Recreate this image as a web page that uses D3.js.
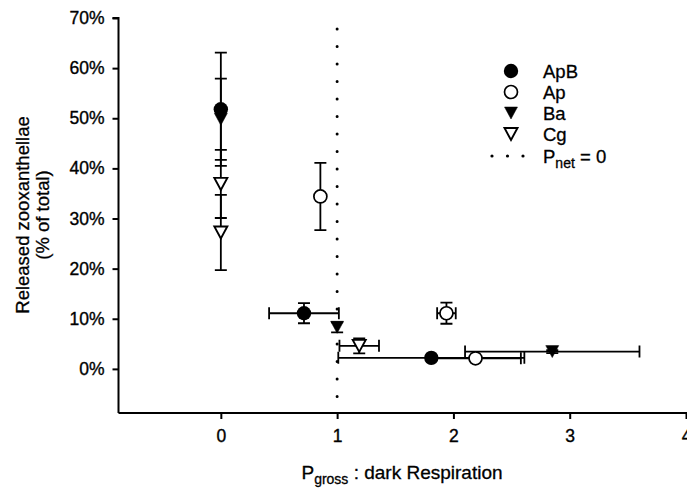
<!DOCTYPE html>
<html><head><meta charset="utf-8">
<script src="https://cdn.jsdelivr.net/npm/d3@7"></script>
<style>body{margin:0;background:#fff}svg text{font-family:"Liberation Sans",Arial,sans-serif;fill:#000}</style>
</head><body><svg id="c" width="687" height="494"></svg>
<script>
// ---- data ----
const seriesNames = ["ApB", "Ap", "Ba", "Cg"];
const apbX = [0, 0.715, 1.81];
const apbY = [51.8, 11.1, 2.2];
const apbXErr = [0, 0.3, 0.8];
const apbYErr = [11.3, 2.0, 0.3];
const apX = [0.856, 1.94, 2.19];
const apY = [34.4, 11.1, 2.1];
const apXErr = [0, 0.08, 0.39];
const apYErr = [6.7, 2.1, 0.3];
const baX = [0, 1.0, 2.85];
const baY = [49.8, 8.3, 3.45];
const baXErr = [0, 0, 0.75];
const baYErr = [8.1, 1.0, 0.3];
const cgX = [0, 0, 1.19];
const cgY = [36.9, 27.2, 4.6];
const cgXErr = [0, 0, 0.17];
const cgYErr = [6.8, 7.5, 1.5];
const xTicks = [0, 1, 2, 3, 4];
const yTicks = [0, 10, 20, 30, 40, 50, 60, 70];
const pNet = 1;

const series = [
  {name: seriesNames[0], marker: "circle", fill: "#000", x: apbX, y: apbY, xe: apbXErr, ye: apbYErr},
  {name: seriesNames[1], marker: "circle", fill: "#fff", x: apX, y: apY, xe: apXErr, ye: apYErr},
  {name: seriesNames[2], marker: "tri", fill: "#000", x: baX, y: baY, xe: baXErr, ye: baYErr},
  {name: seriesNames[3], marker: "tri", fill: "#fff", x: cgX, y: cgY, xe: cgXErr, ye: cgYErr}
];

const svg = d3.select("#c");
const x = d3.scaleLinear().domain([-0.88, 4]).range([118.5, 686]);
const y = d3.scaleLinear().domain([-8.8, 70]).range([413, 18]);

// axes
const yAxis = d3.axisLeft(y).tickValues(yTicks).tickFormat(d => d + "%").tickSize(6).tickPadding(8);
const gy = svg.append("g").attr("transform", `translate(${x.range()[0]},0)`).call(yAxis);
gy.select(".domain").attr("d", `M-6,${y(70)}H0V${y.range()[0]}`).attr("stroke-width", 2);
gy.selectAll(".tick line").attr("stroke-width", 2);
gy.selectAll(".tick text").attr("font-size", 17.5).attr("stroke", "#000").attr("stroke-width", 0.35);

const xAxis = d3.axisBottom(x).tickValues(xTicks).tickFormat(d3.format("d")).tickSize(6).tickPadding(11);
const gx = svg.append("g").attr("transform", `translate(0,${y.range()[0]})`).call(xAxis);
gx.select(".domain").attr("d", `M${x.range()[0]},0H${x.range()[1] + 2}`).attr("stroke-width", 2);
gx.selectAll(".tick line").attr("stroke-width", 2);
gx.selectAll(".tick text").attr("font-size", 17.5).attr("stroke", "#000").attr("stroke-width", 0.35);

// axis titles
const yl = svg.append("text").attr("transform", `translate(29,${215}) rotate(-90)`).attr("text-anchor", "middle").attr("font-size", 18.5)
  .attr("stroke", "#000").attr("stroke-width", 0.3);
yl.append("tspan").attr("x", 0).attr("dy", 0).text("Released zooxanthellae");
yl.append("tspan").attr("x", 0).attr("dy", 20).text("(% of total)");

const xl = svg.append("text").attr("x", 402).attr("y", 479).attr("text-anchor", "middle").attr("font-size", 19)
  .attr("stroke", "#000").attr("stroke-width", 0.3);
xl.append("tspan").text("P");
xl.append("tspan").attr("font-size", 14).attr("dy", 5).text("gross");
xl.append("tspan").attr("dy", -5).text(" : dark Respiration");

// Pnet = 0 dotted line
svg.append("line").attr("x1", x(pNet)).attr("x2", x(pNet)).attr("y1", 29).attr("y2", y.range()[0])
  .attr("stroke", "#000").attr("stroke-width", 3).attr("stroke-linecap", "round").attr("stroke-dasharray", "0 17.5");

function marker(g, type, fill) {
  if (type === "circle") {
    const r = fill === "#000" ? 7.2 : 6.5;
    g.append("circle").attr("r", r).attr("fill", fill).attr("stroke", "#000").attr("stroke-width", fill === "#000" ? 0 : 1.7);
  } else {
    const w = 13, h = 12;
    g.append("path").attr("d", `M${-w/2},${-h/2}L${w/2},${-h/2}L0,${h/2}Z`).attr("fill", fill)
      .attr("stroke", "#000").attr("stroke-width", fill === "#000" ? 0.5 : 1.9).attr("stroke-linejoin", "miter");
  }
}

const cap = 6;
const eg = svg.append("g").attr("stroke", "#000").attr("stroke-width", 1.8).attr("fill", "none");
series.forEach(s => {
  s.x.forEach((xv, i) => {
    const cx = x(xv), cy = y(s.y[i]);
    if (s.ye[i] > 0) {
      const t = y(s.y[i] + s.ye[i]), b = y(s.y[i] - s.ye[i]);
      eg.append("path").attr("d", `M${cx},${t}V${b}M${cx - cap},${t}H${cx + cap}M${cx - cap},${b}H${cx + cap}`);
    }
    if (s.xe[i] > 0) {
      const l = x(xv - s.xe[i]), r = x(xv + s.xe[i]);
      eg.append("path").attr("d", `M${l},${cy}H${r}M${l},${cy - cap}V${cy + cap}M${r},${cy - cap}V${cy + cap}`);
    }
  });
});
series.forEach(s => {
  s.x.forEach((xv, i) => {
    const g = svg.append("g").attr("transform", `translate(${x(xv)},${y(s.y[i])})`);
    marker(g, s.marker, s.fill);
  });
});

// legend
const legY = [71, 92, 113, 134];
series.forEach((s, i) => {
  const g = svg.append("g").attr("transform", `translate(511,${legY[i]})`);
  marker(g, s.marker, s.fill);
  svg.append("text").attr("x", 543).attr("y", legY[i] + 6.5).attr("font-size", 18.5)
    .attr("stroke", "#000").attr("stroke-width", 0.3).text(s.name);
});
const pY = 156;
[492, 507.5, 523].forEach(px => svg.append("circle").attr("cx", px).attr("cy", pY).attr("r", 1.6).attr("fill", "#000"));
const pt = svg.append("text").attr("x", 543).attr("y", pY + 6.5).attr("font-size", 18.5)
  .attr("stroke", "#000").attr("stroke-width", 0.3);
pt.append("tspan").text("P");
pt.append("tspan").attr("font-size", 14).attr("dy", 5).text("net");
pt.append("tspan").attr("dy", -5).text(" = 0");
</script></body></html>
